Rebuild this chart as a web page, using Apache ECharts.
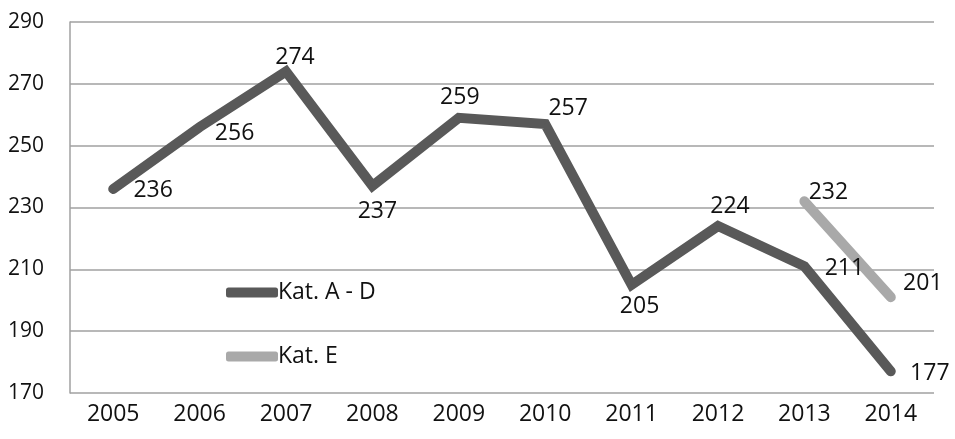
<!DOCTYPE html>
<html>
<head>
<meta charset="utf-8">
<script src="https://cdn.jsdelivr.net/npm/echarts@6/dist/echarts.min.js"></script>
<style>
  html, body { margin: 0; padding: 0; background: #fff; }
  #chart { width: 955px; height: 439px; }
</style>
</head>
<body>
<div id="chart"></div>
<script>
const years = ['2005', '2006', '2007', '2008', '2009', '2010', '2011', '2012', '2013', '2014'];
const katAD = [236, 256, 274, 237, 259, 257, 205, 224, 211, 177];
const katE = [null, null, null, null, null, null, null, null, 232, 201];
const yTicks = [170, 190, 210, 230, 250, 270, 290];

// label offsets (label centre relative to the point), per point
const offsAD = [[40, 2], [35, 6], [9, -14], [5, 26], [1, -20], [23, -16], [8, 22], [12, -20], [40, 2], [39, 2]];
const offsE = [null, null, null, null, null, null, null, null, [24, -9], [32, -14]];

const FONT = 'Open Sans';
const FS = 23;
const FS_Y = 21;
const darkGray = '#595959';
const lightGray = '#a9a9a9';

function withLabels(values, offs) {
  return values.map((v, i) => {
    if (v == null) return null;
    return {
      value: v,
      label: { offset: offs[i] }
    };
  });
}

function lineSeries(name, values, offs, color, z) {
  return {
    name: name,
    type: 'line',
    data: withLabels(values, offs),
    symbol: 'circle',
    symbolSize: 1,
    showSymbol: true,
    color: color,
    itemStyle: { color: color },
    lineStyle: { color: color, width: 10, cap: 'round', join: 'miter' },
    label: {
      show: true,
      position: 'inside',
      fontFamily: FONT,
      fontSize: FS,
      color: '#111'
    },
    emphasis: { disabled: true },
    z: z
  };
}

const chart = echarts.init(document.getElementById('chart'), null, { renderer: 'canvas' });
chart.setOption({
  animation: false,
  backgroundColor: '#fff',
  grid: { left: 70, right: 21, top: 22, bottom: 46 },
  legend: {
    orient: 'vertical',
    left: 221,
    top: 276,
    itemGap: 41,
    itemWidth: 52,
    itemHeight: 10,
    icon: 'roundRect',
    textStyle: { fontFamily: FONT, fontSize: FS, color: '#111', padding: [0, 0, 0, -5] },
    data: ['Kat. A - D', 'Kat. E']
  },
  xAxis: {
    type: 'category',
    data: years,
    boundaryGap: true,
    axisLine: { show: false },
    axisTick: { show: false },
    axisLabel: { fontFamily: FONT, fontSize: FS, color: '#111', margin: 10 }
  },
  yAxis: {
    type: 'value',
    min: yTicks[0],
    max: yTicks[yTicks.length - 1],
    interval: 20,
    axisLine: { show: true, lineStyle: { color: '#a0a0a0', width: 1.5 } },
    axisTick: { show: false },
    axisLabel: { fontFamily: FONT, fontSize: FS_Y, color: '#111', margin: 26 },
    splitLine: { lineStyle: { color: '#a0a0a0', width: 1.5 } }
  },
  series: [
    lineSeries('Kat. A - D', katAD, offsAD, darkGray, 3),
    lineSeries('Kat. E', katE, offsE, lightGray, 2)
  ]
});
</script>
</body>
</html>
